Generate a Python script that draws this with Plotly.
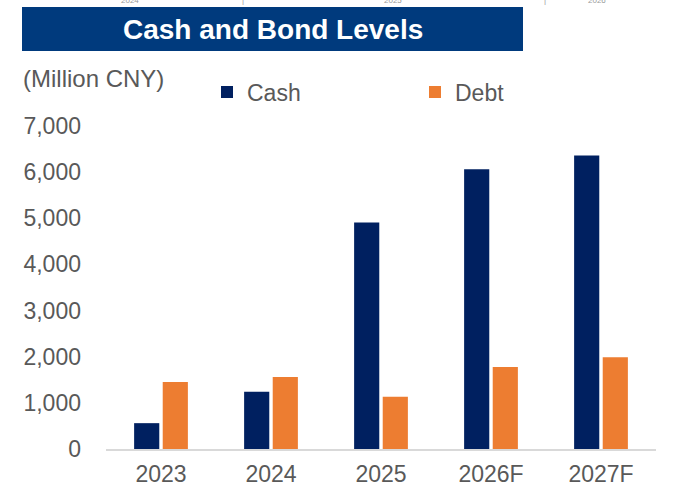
import plotly.graph_objects as go

years = ['2023', '2024', '2025', '2026F', '2027F']
cash = [560, 1240, 4910, 6060, 6360]
debt = [1450, 1560, 1130, 1775, 1990]
y_ticks = [0, 1000, 2000, 3000, 4000, 5000, 6000, 7000]
y_tick_labels = ['0', '1,000', '2,000', '3,000', '4,000', '5,000', '6,000', '7,000']

# faint labels cut off at the very top of the source image
top_bits = [('2024', 130), ('|', 243), ('2025', 393), ('|', 545), ('2026', 597)]

NAVY = '#002060'
ORANGE = '#ED7D31'
FONT = 'Liberation Sans, Arial, sans-serif'
GREY = '#595959'

fig = go.Figure()
fig.add_trace(go.Bar(x=years, y=cash, name='Cash', marker=dict(color=NAVY, line=dict(width=0))))
fig.add_trace(go.Bar(x=years, y=debt, name='Debt', marker=dict(color=ORANGE, line=dict(width=0))))

W, H = 692, 488
L, R, T, B = 106, 36, 126, 39
AXIS_Y = H - B        # pixel row of the x axis
pw = W - L - R
ph = AXIS_Y - T

def px_x(x):
    return (x - L) / pw

def px_y(y):
    return (AXIS_Y - y) / ph

fig.update_layout(
    width=W, height=H, autosize=False,
    margin=dict(l=L, r=R, t=T, b=B),
    paper_bgcolor='white', plot_bgcolor='white',
    font=dict(family=FONT, size=23, color=GREY),
    barmode='group', bargap=0.48, bargroupgap=0.12,
    showlegend=True,
    legend=dict(orientation='h', x=px_x(207), y=px_y(92), xanchor='left', yanchor='middle',
                font=dict(size=23, color=GREY), entrywidth=163, entrywidthmode='pixels',
                bgcolor='rgba(0,0,0,0)'),
    xaxis=dict(showgrid=False, showline=True, linecolor='#d9d9d9', linewidth=2,
               ticks='', ticklabelstandoff=3, automargin=False,
               tickfont=dict(size=23, color=GREY)),
    yaxis=dict(range=[0, 7000], tickvals=y_ticks, ticktext=y_tick_labels,
               showgrid=False, zeroline=False, showline=False, ticks='',
               ticklabelstandoff=24, automargin=False,
               tickfont=dict(size=23, color=GREY)),
)

# title banner
fig.add_shape(type='rect', xref='paper', yref='paper',
              x0=px_x(22), x1=px_x(523), y0=px_y(51), y1=px_y(7),
              fillcolor='#003A7D', line=dict(width=0), layer='above')
fig.add_annotation(text='<b>Cash and Bond Levels</b>', xref='paper', yref='paper',
                   x=px_x(273), y=px_y(29), xanchor='center', yanchor='middle',
                   showarrow=False, font=dict(family=FONT, size=28, color='white'))

fig.add_annotation(text='(Million CNY)', xref='paper', yref='paper',
                   x=px_x(21), y=px_y(78), xanchor='left', yanchor='middle',
                   showarrow=False, font=dict(family=FONT, size=24, color=GREY))

for txt, xpos in top_bits:
    fig.add_annotation(text=txt, xref='paper', yref='paper',
                       x=px_x(xpos), y=px_y(1), xanchor='center', yanchor='middle',
                       showarrow=False, font=dict(family=FONT, size=8, color='#9a9a9a'))

# drop the default 8px page margin so the figure sits at the window corner
fig.write_html('out.html', config={'displayModeBar': False, 'responsive': False},
               post_script="document.body.style.margin='0';document.body.style.overflow='hidden';")
